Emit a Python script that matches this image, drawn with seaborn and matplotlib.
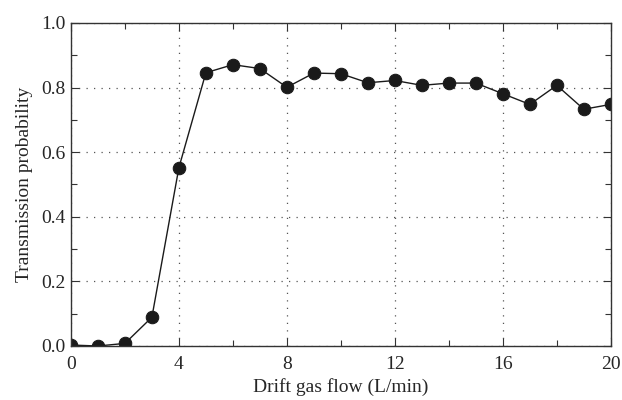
import matplotlib
matplotlib.use("Agg")
import matplotlib.pyplot as plt
import seaborn as sns
import pandas as pd
from matplotlib.ticker import MultipleLocator

# valores
flujo = [0, 1, 2, 3, 4, 5, 6, 7, 8, 9, 10, 11, 12, 13, 14, 15, 16, 17, 18, 19, 20]
prob = [0.003, 0.0, 0.008, 0.089, 0.552, 0.846, 0.871, 0.859, 0.801, 0.845, 0.843,
        0.815, 0.822, 0.807, 0.814, 0.814, 0.781, 0.748, 0.807, 0.733, 0.748]

df = pd.DataFrame({"flujo": flujo, "prob": prob})

sns.set_style("ticks")
plt.rcParams["font.family"] = ["Liberation Serif", "DejaVu Serif"]

fig = plt.figure(figsize=(6.22, 4.0), dpi=100)
ax = fig.add_axes([0.114, 0.135, 0.868, 0.8075])

sns.lineplot(data=df, x="flujo", y="prob", ax=ax, color="#1a1a1a", linewidth=1.0,
             marker="o", markersize=9, markeredgecolor="#1a1a1a", markerfacecolor="#1a1a1a")

ax.set_xlim(0, 20)
ax.set_ylim(0, 1.0)
ax.xaxis.set_major_locator(MultipleLocator(4))
ax.xaxis.set_minor_locator(MultipleLocator(2))
ax.yaxis.set_major_locator(MultipleLocator(0.2))
ax.yaxis.set_minor_locator(MultipleLocator(0.1))
ax.yaxis.set_major_formatter(matplotlib.ticker.FormatStrFormatter("%.1f"))

ax.tick_params(which="both", direction="in", top=True, right=True, labelsize=14,
               color="#333333", width=0.8)
ax.tick_params(which="major", length=6)
ax.tick_params(which="minor", length=4)
ax.tick_params(axis="y", pad=4)
ax.tick_params(axis="x", pad=7)
ax.grid(True, which="major", linestyle=(0, (1, 5)), color="#555555", linewidth=0.9)

for s in ax.spines.values():
    s.set_color("#333333")
    s.set_linewidth(1.0)

ax.set_xlabel("Drift gas flow (L/min)", fontsize=14, labelpad=4)
ax.set_ylabel("Transmission probability", fontsize=14, labelpad=6)

fig.savefig("out.png", dpi=100)
